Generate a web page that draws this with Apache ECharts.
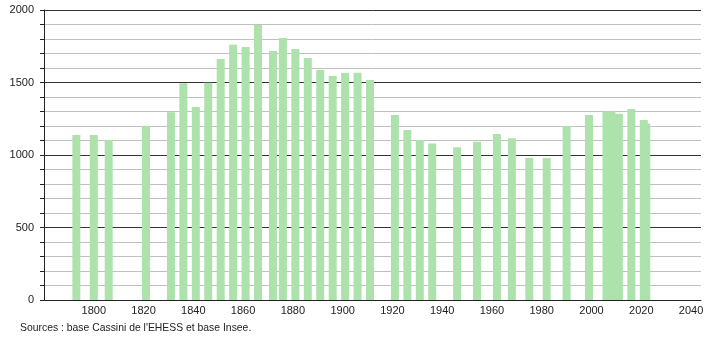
<!DOCTYPE html>
<html><head><meta charset="utf-8">
<script src="https://cdn.jsdelivr.net/npm/echarts@6/dist/echarts.min.js"></script>
<style>html,body{margin:0;padding:0;background:#fff}#c{width:710px;height:340px}</style>
</head><body><div id="c"></div>
<script>
const years = [1793,1800,1806,1821,1831,1836,1841,1846,1851,1856,1861,1866,1872,1876,1881,1886,1891,1896,1901,1906,1911,1921,1926,1931,1936,1946,1954,1962,1968,1975,1982,1990,1999,2006,2008,2011,2016,2021,2022];
const population = [1138,1138,1103,1202,1294,1494,1331,1499,1662,1761,1745,1897,1717,1807,1731,1669,1586,1545,1566,1568,1517,1276,1172,1103,1080,1053,1092,1145,1115,980,980,1200,1276,1300,1300,1285,1318,1241,1218];
const xTicks = [1800,1820,1840,1860,1880,1900,1920,1940,1960,1980,2000,2020,2040];
const yTicks = [0,500,1000,1500,2000];
const sourceText = "Sources : base Cassini de l'EHESS et base Insee.";

const chart = echarts.init(document.getElementById('c'), null, {renderer:'canvas'});
chart.setOption({
  animation:false,
  grid:{left:44,right:9,top:10,bottom:40,containLabel:false},
  graphic:[{type:'text',left:20,top:323,style:{text:sourceText,font:'10.4px "Liberation Sans", Arial, sans-serif',fill:'#222'}}],
  xAxis:{type:'value',min:1780,max:2044,interval:20,
    axisLine:{show:true,onZero:false,lineStyle:{color:'#222',width:1}},
    axisTick:{show:false},splitLine:{show:false},
    axisLabel:{showMinLabel:false,showMaxLabel:false,margin:5,color:'#222',fontSize:11,fontFamily:'"Liberation Sans", Arial, sans-serif',
      formatter:v=>xTicks.includes(v)?String(v):''}},
  yAxis:{type:'value',min:0,max:2000,interval:500,
    axisLine:{show:true,lineStyle:{color:'#222',width:1}},
    axisTick:{show:true,length:4,lineStyle:{color:'#222'}},
    minorTick:{show:true,splitNumber:5,length:4,lineStyle:{color:'#222'}},
    splitLine:{show:true,lineStyle:{color:'#333',width:1}},
    minorSplitLine:{show:true,lineStyle:{color:'#c0c0c0',width:1}},
    axisLabel:{margin:10,color:'#222',fontSize:11,fontFamily:'"Liberation Sans", Arial, sans-serif',
      formatter:v=>yTicks.includes(v)?String(v):''}},
  series:[{type:'bar',barWidth:8,data:years.map((y,i)=>[y,population[i]]),
    itemStyle:{color:'#ade2ad'},z:3}]
});
</script></body></html>
